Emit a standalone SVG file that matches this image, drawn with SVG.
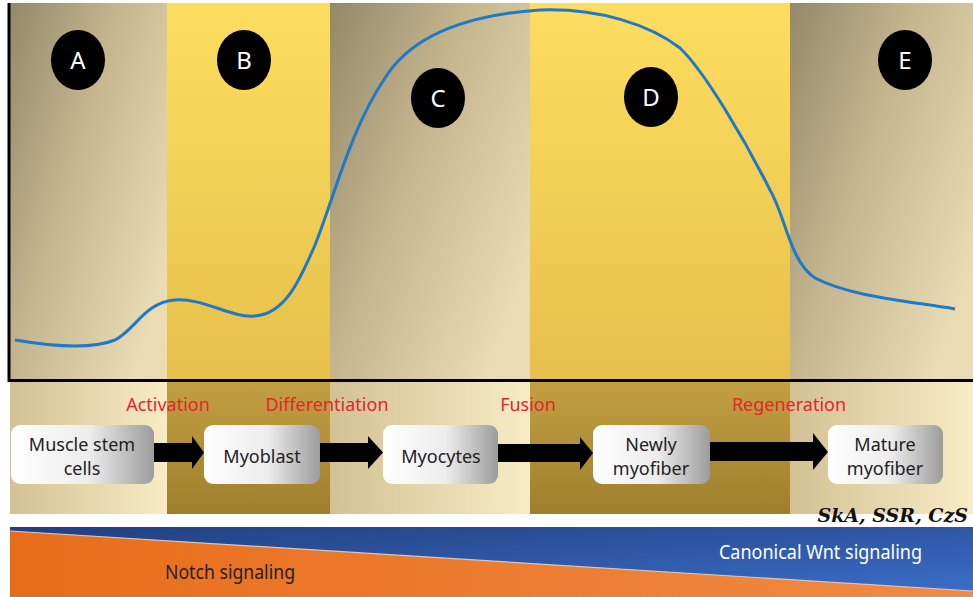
<svg xmlns="http://www.w3.org/2000/svg" width="973" height="597" viewBox="0 0 973 597">
<defs>
<linearGradient id="beigeTop" x1="0" y1="0" x2="1" y2="0.7">
<stop offset="0" stop-color="#938869"/>
<stop offset="0.45" stop-color="#c3b48d"/>
<stop offset="1" stop-color="#e9dcb4"/>
</linearGradient>
<linearGradient id="yellowTop" x1="0" y1="0" x2="0" y2="1">
<stop offset="0" stop-color="#fddd5f"/>
<stop offset="1" stop-color="#e6c04b"/>
</linearGradient>
<linearGradient id="beigeBot" x1="0" y1="0" x2="1" y2="0">
<stop offset="0" stop-color="#d3c193"/>
<stop offset="1" stop-color="#f7ecc5"/>
</linearGradient>
<linearGradient id="goldBot" x1="0" y1="0" x2="0" y2="1">
<stop offset="0" stop-color="#c29f42"/>
<stop offset="1" stop-color="#9f7f2d"/>
</linearGradient>
<linearGradient id="boxFill" x1="0" y1="0" x2="1" y2="0">
<stop offset="0" stop-color="#ffffff"/>
<stop offset="0.55" stop-color="#ececec"/>
<stop offset="1" stop-color="#9c9c9c"/>
</linearGradient>
<linearGradient id="blueBar" x1="0" y1="0" x2="1" y2="1">
<stop offset="0" stop-color="#213f7f"/>
<stop offset="1" stop-color="#3c6fcb"/>
</linearGradient>
<linearGradient id="orangeBar" x1="0" y1="0" x2="1" y2="0">
<stop offset="0" stop-color="#e86d1a"/>
<stop offset="1" stop-color="#f08b45"/>
</linearGradient>
<style>
.lbl{font-family:"Noto Sans","Liberation Sans",sans-serif;font-size:24px;fill:#ffffff;text-anchor:middle}
.step{font-family:"Noto Sans","Liberation Sans",sans-serif;font-size:18px;fill:#e3262b;text-anchor:middle}
.box{font-family:"Noto Sans","Liberation Sans",sans-serif;font-size:18px;fill:#222222;text-anchor:middle}
.arrow{fill:#000000}
</style>
</defs>
<rect x="0" y="0" width="973" height="597" fill="#ffffff"/>

<g id="bands-top">
<rect x="10" y="3" width="157" height="377" fill="url(#beigeTop)"/>
<rect x="167" y="3" width="163" height="377" fill="url(#yellowTop)"/>
<rect x="330" y="3" width="200" height="377" fill="url(#beigeTop)"/>
<rect x="530" y="3" width="260" height="377" fill="url(#yellowTop)"/>
<rect x="790" y="3" width="183" height="377" fill="url(#beigeTop)"/>
</g>
<g id="bands-bottom">
<rect x="10" y="382" width="157" height="132" fill="url(#beigeBot)"/>
<rect x="167" y="382" width="163" height="132" fill="url(#goldBot)"/>
<rect x="330" y="382" width="200" height="132" fill="url(#beigeBot)"/>
<rect x="530" y="382" width="260" height="132" fill="url(#goldBot)"/>
<rect x="790" y="382" width="183" height="132" fill="url(#beigeBot)"/>
</g>

<g id="axes">
<line x1="9" y1="3" x2="9" y2="382" stroke="#000" stroke-width="3"/>
<line x1="8" y1="380.5" x2="973" y2="380.5" stroke="#000" stroke-width="3"/>
</g>

<path id="curve" d="M15,340 C50,346 90,350 115,340 C135,330 145,302 175,300 C205,298 230,318 255,316 C285,314 300,280 315,245 C335,195 350,130 385,78 C415,30 480,14 540,10 C600,8 650,25 680,48 C705,72 745,140 770,190 C785,215 790,262 815,278 C850,296 900,300 955,309" fill="none" stroke="#1f78c8" stroke-width="3"/>

<g id="A"><ellipse cx="78" cy="60" rx="27" ry="30" fill="#000"/><text class="lbl" x="78" y="69">A</text></g>
<g id="B"><ellipse cx="244" cy="60" rx="27" ry="30" fill="#000"/><text class="lbl" x="244" y="69">B</text></g>
<g id="C"><ellipse cx="438" cy="98" rx="27" ry="30" fill="#000"/><text class="lbl" x="438" y="107">C</text></g>
<g id="D"><ellipse cx="651" cy="97" rx="27" ry="30" fill="#000"/><text class="lbl" x="651" y="106">D</text></g>
<g id="E"><ellipse cx="905" cy="60" rx="27" ry="30" fill="#000"/><text class="lbl" x="905" y="69">E</text></g>

<g id="connectors">
<polygon class="arrow" points="154,443 192,443 192,436 204,452.5 192,469 192,462 154,462"/>
<polygon class="arrow" points="320,443 368,443 368,436 383,452.5 368,469 368,462 320,462"/>
<polygon class="arrow" points="498,444 580,444 580,437 593,453 580,470 580,462 498,462"/>
<polygon class="arrow" points="710,442 813,442 813,433 828,452 813,470 813,461 710,461"/>
</g>

<g id="step-labels">
<text class="step" x="168" y="411">Activation</text>
<text class="step" x="327" y="411">Differentiation</text>
<text class="step" x="528" y="411">Fusion</text>
<text class="step" x="789" y="411">Regeneration</text>
</g>

<g id="muscle-stem-cells"><rect x="11" y="425" width="143" height="59" rx="9" fill="url(#boxFill)"/><text class="box" x="82" y="451">Muscle stem</text><text class="box" x="82" y="475">cells</text></g>
<g id="myoblast"><rect x="204" y="425" width="116" height="59" rx="9" fill="url(#boxFill)"/><text class="box" x="262" y="463">Myoblast</text></g>
<g id="myocytes"><rect x="383" y="425" width="115" height="59" rx="9" fill="url(#boxFill)"/><text class="box" x="441" y="463">Myocytes</text></g>
<g id="newly-myofiber"><rect x="593" y="425" width="117" height="59" rx="9" fill="url(#boxFill)"/><text class="box" x="651" y="451">Newly</text><text class="box" x="651" y="475">myofiber</text></g>
<g id="mature-myofiber"><rect x="828" y="425" width="115" height="59" rx="9" fill="url(#boxFill)"/><text class="box" x="885" y="451">Mature</text><text class="box" x="885" y="475">myofiber</text></g>

<text x="968" y="522" text-anchor="end" font-family="'DejaVu Serif',serif" font-style="italic" font-weight="bold" font-size="19" fill="#111">SkA, SSR, CzS</text>

<g id="signaling-bar">
<rect x="10" y="527" width="963" height="70" fill="url(#blueBar)"/>
<polygon points="10,531 973,591 973,597 10,597" fill="url(#orangeBar)"/>
<line x1="10" y1="531" x2="973" y2="591" stroke="#d9c7bc" stroke-width="1.2"/>
<text x="165" y="579" font-family="'Noto Sans','Liberation Sans',sans-serif" font-size="19" fill="#222" textLength="130" lengthAdjust="spacingAndGlyphs">Notch signaling</text>
<text x="719" y="559" font-family="'Noto Sans','Liberation Sans',sans-serif" font-size="19" fill="#ffffff" textLength="203" lengthAdjust="spacingAndGlyphs">Canonical Wnt signaling</text>
</g>
</svg>
